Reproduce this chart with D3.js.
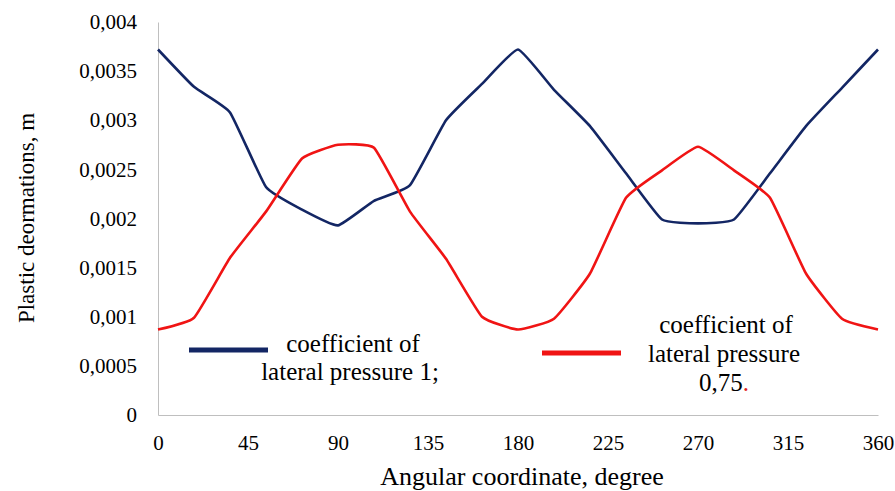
<!DOCTYPE html>
<html>
<head>
<meta charset="utf-8">
<script src="https://cdn.jsdelivr.net/npm/d3@7"></script>
<style>
  html, body { margin: 0; padding: 0; background: #fff; }
  svg text { font-family: "Liberation Serif", "Times New Roman", Times, "DejaVu Serif", serif !important; }
</style>
</head>
<body>
<svg id="chart" width="895" height="491"></svg>
<script>
// Angular coordinate, degrees (step 18°)
const angles = [0, 18, 36, 54, 72, 90, 108, 126, 144, 162, 180,
                198, 216, 234, 252, 270, 288, 306, 324, 342, 360];

// Plastic deformations, m — coefficient of lateral pressure 1
const coef1 = [0.00372, 0.00334, 0.00308, 0.00232, 0.00209, 0.00193, 0.00218, 0.00234, 0.00300, 0.00337, 0.00372,
               0.00331, 0.00294, 0.00246, 0.00199, 0.00195, 0.00199, 0.00246, 0.00294, 0.00333, 0.00372];

// Plastic deformations, m — coefficient of lateral pressure 0,75
const coef075 = [0.00087, 0.00099, 0.00160, 0.00207, 0.00261, 0.00275, 0.00272, 0.00207, 0.00159, 0.00100, 0.00087,
                 0.00098, 0.00144, 0.00221, 0.00249, 0.00273, 0.00249, 0.00221, 0.00144, 0.00098, 0.00087];

const xTicks = [0, 45, 90, 135, 180, 225, 270, 315, 360];
const yTicks = [0, 0.0005, 0.001, 0.0015, 0.002, 0.0025, 0.003, 0.0035, 0.004];

const svg = d3.select("#chart");
const plotL = 158, plotR = 878, plotT = 22, plotB = 415;

const x = d3.scaleLinear().domain([0, 360]).range([plotL, plotR]);
const y = d3.scaleLinear().domain([0, 0.004]).range([plotB, plotT]);

const fmtY = v => v === 0 ? "0" : String(+v.toFixed(4)).replace(".", ",");

// Y axis
const yAxis = svg.append("g")
  .attr("transform", `translate(${plotL},0)`)
  .call(d3.axisLeft(y).tickValues(yTicks).tickFormat(fmtY).tickSize(0).tickPadding(21));
yAxis.select(".domain").attr("stroke", "#bfbfbf").attr("stroke-width", 1);
yAxis.selectAll("text").attr("font-size", 21).attr("fill", "#000");

// X axis
const xAxis = svg.append("g")
  .attr("transform", `translate(0,${plotB})`)
  .call(d3.axisBottom(x).tickValues(xTicks).tickFormat(d3.format("d")).tickSize(0).tickPadding(20));
xAxis.select(".domain").attr("stroke", "#bfbfbf").attr("stroke-width", 1);
xAxis.selectAll("text").attr("font-size", 21).attr("fill", "#000");

// Axis titles
svg.append("text")
  .attr("x", 522).attr("y", 485)
  .attr("text-anchor", "middle").attr("font-size", 26)
  .text("Angular coordinate, degree");

svg.append("text")
  .attr("transform", `translate(34,218) rotate(-90)`)
  .attr("text-anchor", "middle").attr("font-size", 23)
  .text("Plastic deormations, m");

// Series lines (smoothed)
const line = d3.line()
  .x((d, i) => x(angles[i]))
  .y(d => y(d))
  .curve(d3.curveCardinal.tension(0.6));

svg.append("path").datum(coef1)
  .attr("d", line).attr("fill", "none")
  .attr("stroke", "#132664").attr("stroke-width", 2.6);

svg.append("path").datum(coef075)
  .attr("d", line).attr("fill", "none")
  .attr("stroke", "#f01414").attr("stroke-width", 2.6);

// Legend
const lg = svg.append("g").attr("font-size", 25).attr("fill", "#000");
lg.append("line").attr("x1", 189).attr("x2", 268).attr("y1", 350).attr("y2", 350)
  .attr("stroke", "#132664").attr("stroke-width", 5);
lg.append("text").attr("x", 353).attr("y", 352).attr("text-anchor", "middle").text("coefficient of");
lg.append("text").attr("x", 350).attr("y", 380).attr("text-anchor", "middle").text("lateral pressure 1;");

lg.append("line").attr("x1", 542).attr("x2", 621).attr("y1", 353).attr("y2", 353)
  .attr("stroke", "#f01414").attr("stroke-width", 5);
lg.append("text").attr("x", 726).attr("y", 333).attr("text-anchor", "middle").text("coefficient of");
lg.append("text").attr("x", 724).attr("y", 362).attr("text-anchor", "middle").text("lateral pressure");
const t3 = lg.append("text").attr("x", 724).attr("y", 391).attr("text-anchor", "middle");
t3.append("tspan").text("0,75");
t3.append("tspan").attr("fill", "#e02020").text(".");
</script>
</body>
</html>
